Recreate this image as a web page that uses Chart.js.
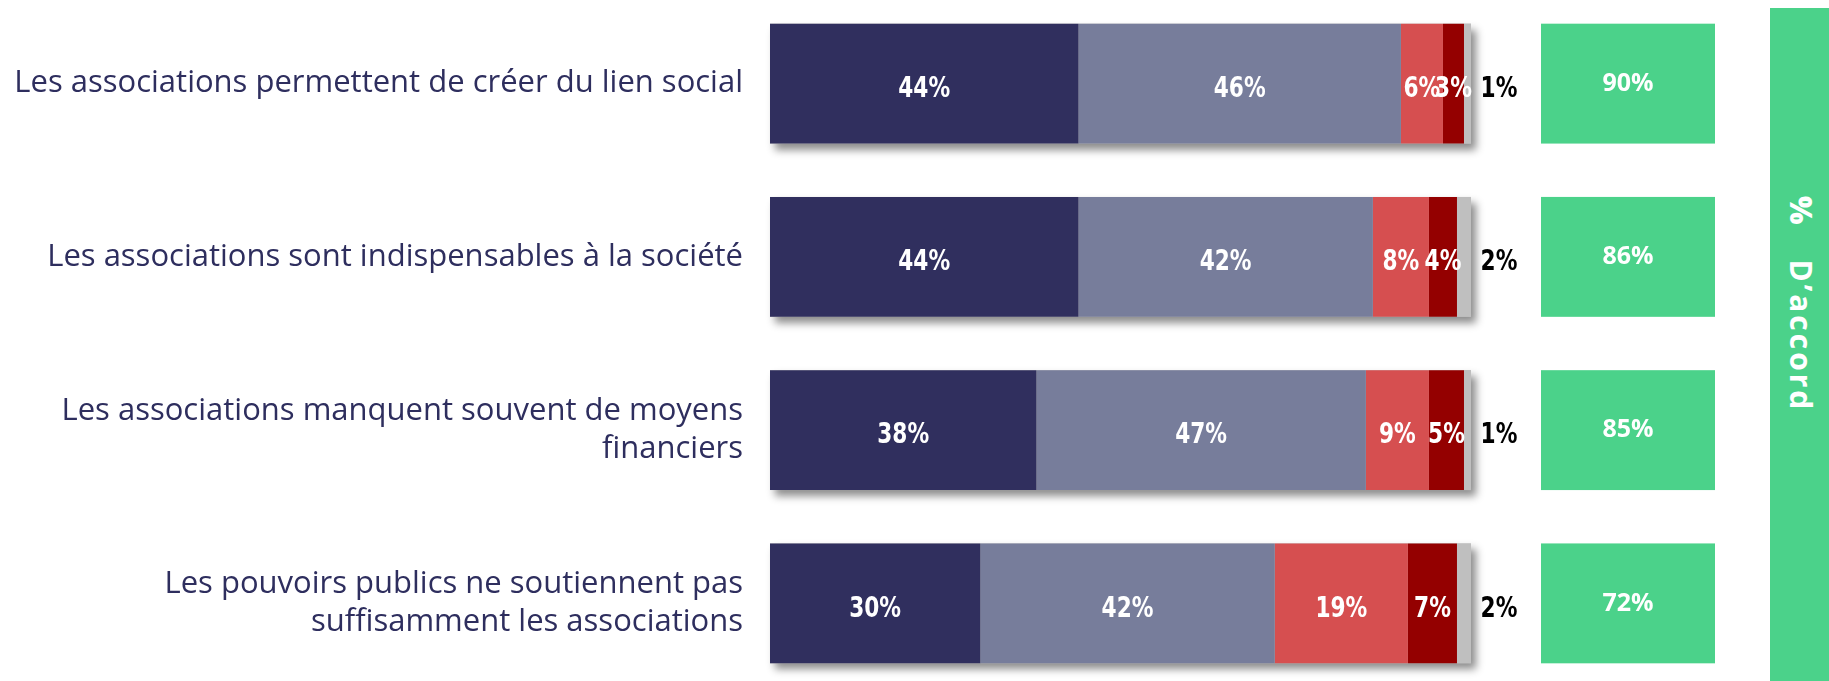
<!DOCTYPE html>
<html>
<head>
<meta charset="utf-8">
<script src="https://cdn.jsdelivr.net/npm/chart.js@4/dist/chart.umd.min.js"></script>
<style>
    html, body { margin: 0; padding: 0; background: #fff; overflow: hidden; }
    body { width: 1829px; height: 681px; position: relative; }
    #wrap { position: absolute; left: 0; top: -3px; width: 1829px; height: 693px; }
    #banner {
        position: absolute; left: 1770px; top: 8px; width: 59px; height: 673px;
        background: #4bd28a; display: flex; justify-content: center;
    }
    #banner span {
        writing-mode: vertical-rl; color: #fff; font: bold 30px 'Open Sans', sans-serif;
        letter-spacing: 3px; padding-top: 188px; padding-left: 4px;
    }
    #banner b { margin-inline-end: 32px; }
</style>
</head>
<body>
<div id="wrap"><canvas id="bar-chart"></canvas></div>
<div id="banner"><span><b>%</b>D’accord</span></div>
<script>
const categories = [
    'Les associations permettent de créer du lien social',
    'Les associations sont indispensables à la société',
    ['Les associations manquent souvent de moyens', 'financiers'],
    ['Les pouvoirs publics ne soutiennent pas', 'suffisamment les associations']
];
const toutAFait = [44, 44, 38, 30];
const plutot = [46, 42, 47, 42];
const plutotPas = [6, 8, 9, 19];
const pasDuTout = [3, 4, 5, 7];
const nsp = [1, 2, 1, 2];
const totalAccord = [90, 86, 85, 72];

const condensed = "'Liberation Sans Narrow', 'DejaVu Sans Condensed', sans-serif";

// grey drop shadow under each stacked bar
const shadowPlugin = {
    id: 'shadow',
    beforeDatasetsDraw(chart) {
        const ctx = chart.ctx;
        const first = chart.getDatasetMeta(0).data;
        const last = chart.getDatasetMeta(chart.data.datasets.length - 1).data;
        ctx.save();
        ctx.shadowColor = 'rgba(0, 0, 0, 0.45)';
        ctx.shadowBlur = 8;
        ctx.shadowOffsetX = 5;
        ctx.shadowOffsetY = 6;
        ctx.fillStyle = '#bfbfbf';
        first.forEach((bar, i) => {
            const left = bar.base;
            const right = last[i].x;
            ctx.fillRect(left, bar.y - bar.height / 2, right - left, bar.height);
        });
        ctx.restore();
    }
};

// narrow text: squeeze the condensed font a bit more
function narrowText(ctx, txt, x, y) {
    ctx.save();
    ctx.translate(x, y);
    ctx.scale(0.86, 1);
    ctx.fillText(txt, 0, 0);
    ctx.restore();
}

// percentages inside the bars, last one outside, and the green "% d'accord" boxes
const labelPlugin = {
    id: 'labels',
    afterDatasetsDraw(chart) {
        const ctx = chart.ctx;
        const area = chart.chartArea;
        const n = chart.data.datasets.length;
        ctx.save();
        ctx.textBaseline = 'middle';
        ctx.textAlign = 'center';
        ctx.font = 'bold 28px ' + condensed;
        chart.data.datasets.forEach((ds, d) => {
            chart.getDatasetMeta(d).data.forEach((bar, i) => {
                const txt = ds.data[i] + '%';
                if (d === n - 1) {
                    ctx.fillStyle = '#000';
                    narrowText(ctx, txt, area.right + 28, bar.y + 6);
                } else {
                    ctx.fillStyle = '#fff';
                    narrowText(ctx, txt, (bar.x + bar.base) / 2, bar.y + 6);
                }
            });
        });
        const ref = chart.getDatasetMeta(0).data;
        ctx.font = 'bold 25px "Open Sans", sans-serif';
        ref.forEach((bar, i) => {
            const x0 = area.right + 70;
            ctx.fillStyle = '#4bd28a';
            ctx.fillRect(x0, bar.y - bar.height / 2, 174, bar.height);
            ctx.fillStyle = '#fff';
            ctx.fillText(totalAccord[i] + '%', x0 + 87, bar.y);
        });
        ctx.restore();
    }
};

new Chart(document.getElementById('bar-chart'), {
    type: 'bar',
    data: {
        labels: categories,
        datasets: [
            { label: 'Tout à fait d’accord', data: toutAFait, backgroundColor: '#302f5e' },
            { label: 'Plutôt d’accord', data: plutot, backgroundColor: '#777d9b' },
            { label: 'Plutôt pas d’accord', data: plutotPas, backgroundColor: '#d64f50' },
            { label: 'Pas du tout d’accord', data: pasDuTout, backgroundColor: '#940000' },
            { label: 'Ne se prononce pas', data: nsp, backgroundColor: '#bfbfbf' }
        ]
    },
    options: {
        indexAxis: 'y',
        responsive: true,
        maintainAspectRatio: false,
        animation: false,
        datasets: {
            bar: { barPercentage: 0.692, categoryPercentage: 1, borderWidth: 0 }
        },
        layout: { padding: { left: 0, right: 358, top: 0, bottom: 0 } },
        scales: {
            x: { stacked: true, display: false, min: 0, max: 100 },
            y: {
                stacked: true,
                grid: { display: false, drawTicks: false },
                border: { display: false },
                ticks: {
                    padding: 27,
                    color: '#2e2e5e',
                    font: { family: "'Open Sans', sans-serif", size: 31, lineHeight: 1.24 }
                },
                afterFit(scale) {
                    scale.width = 770;
                    scale.paddingTop = 0;
                    scale.paddingBottom = 0;
                }
            }
        },
        plugins: {
            legend: { display: false },
            tooltip: { enabled: false }
        }
    },
    plugins: [shadowPlugin, labelPlugin]
});
</script>
</body>
</html>
